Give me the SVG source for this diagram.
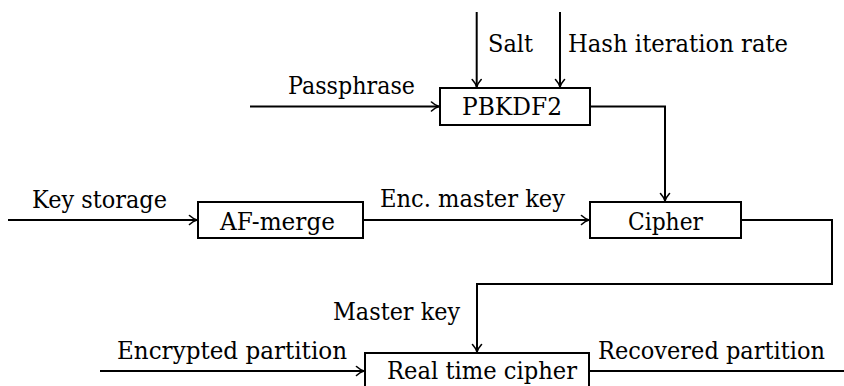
<svg xmlns="http://www.w3.org/2000/svg" width="844" height="386" viewBox="0 0 844 386">
<style>
.box { fill: #fff; stroke: #000; stroke-width: 2; }
.wire { fill: none; stroke: #000; stroke-width: 2; }
</style>
<defs>
<marker id="arr" markerUnits="userSpaceOnUse" markerWidth="12" markerHeight="12" viewBox="-9 -6 10 12" refX="0" refY="0" orient="auto">
<path d="M-7.5,-4.5 C-4.5,-1.8 -2,-0.6 0,0 C-2,0.6 -4.5,1.8 -7.5,4.5" fill="none" stroke="#000" stroke-width="1.6" stroke-linecap="round"/>
</marker>
</defs>
<g font-family="DejaVu Serif, Noto Serif, Liberation Serif, serif" font-size="24" fill="#000" lengthAdjust="spacingAndGlyphs">
<g id="connectors">
<line class="wire" x1="476.7" y1="12" x2="476.7" y2="87" marker-end="url(#arr)"/>
<line class="wire" x1="560" y1="12" x2="560" y2="87" marker-end="url(#arr)"/>
<line class="wire" x1="250" y1="106.5" x2="439" y2="106.5" marker-end="url(#arr)"/>
<polyline class="wire" points="590,106.5 665,106.5 665,201" marker-end="url(#arr)"/>
<line class="wire" x1="8" y1="220" x2="197" y2="220" marker-end="url(#arr)"/>
<line class="wire" x1="363" y1="220" x2="589" y2="220" marker-end="url(#arr)"/>
<polyline class="wire" points="741,220 832,220 832,284 477,284 477,352" marker-end="url(#arr)"/>
<line class="wire" x1="100" y1="371" x2="364" y2="371" marker-end="url(#arr)"/>
<line class="wire" x1="589" y1="371" x2="844" y2="371"/>
<text x="488" y="52" textLength="45" lengthAdjust="spacingAndGlyphs">Salt</text>
<text x="568" y="52" textLength="220" lengthAdjust="spacingAndGlyphs">Hash iteration rate</text>
<text x="288" y="94" textLength="127" lengthAdjust="spacingAndGlyphs">Passphrase</text>
<text x="32" y="208" textLength="135" lengthAdjust="spacingAndGlyphs">Key storage</text>
<text x="380" y="207" textLength="185" lengthAdjust="spacingAndGlyphs">Enc. master key</text>
<text x="333" y="320" textLength="127" lengthAdjust="spacingAndGlyphs">Master key</text>
<text x="117" y="359" textLength="230" lengthAdjust="spacingAndGlyphs">Encrypted partition</text>
<text x="598" y="359" textLength="227" lengthAdjust="spacingAndGlyphs">Recovered partition</text>
</g>
<g id="pbkdf2">
<rect class="box" x="440" y="88" width="150" height="37"/>
<text x="462" y="115" textLength="100" lengthAdjust="spacingAndGlyphs">PBKDF2</text>
</g>
<g id="afmerge">
<rect class="box" x="198" y="202" width="165" height="36"/>
<text x="220" y="230" textLength="115" lengthAdjust="spacingAndGlyphs">AF-merge</text>
</g>
<g id="cipher">
<rect class="box" x="590" y="202" width="151" height="36"/>
<text x="628" y="230" textLength="75" lengthAdjust="spacingAndGlyphs">Cipher</text>
</g>
<g id="realtime">
<rect class="box" x="365" y="353" width="224" height="36"/>
<text x="387" y="379" textLength="190" lengthAdjust="spacingAndGlyphs">Real time cipher</text>
</g>
</g>
</svg>
